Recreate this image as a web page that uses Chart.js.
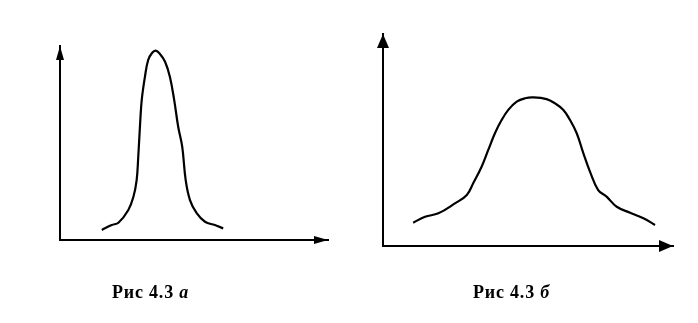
<!DOCTYPE html>
<html>
<head>
<meta charset="utf-8">
<script src="https://cdn.jsdelivr.net/npm/chart.js@4.4.1/dist/chart.umd.min.js"></script>
<style>
  body { margin: 0; background: #fff; }
  #wrap { position: relative; width: 698px; height: 323px; }
  .box { position: absolute; top: 0; width: 349px; height: 323px; }
  .cap { position: absolute; top: 282px; font: bold 18px/20px "Liberation Serif", "Times New Roman", serif; letter-spacing: 0.8px; color: #000; white-space: nowrap; }
  .cap i { font-style: italic; }
</style>
</head>
<body>
<div id="wrap">
  <div class="box" style="left:0"><canvas id="chartA"></canvas></div>
  <div class="box" style="left:349px"><canvas id="chartB"></canvas></div>
  <div class="cap" style="left:112px">Рис 4.3 <i>а</i></div>
  <div class="cap" style="left:473px">Рис 4.3 <i>б</i></div>
</div>
<script>
// narrow curve (4.3 а)
var xA = [15.6, 19.3, 21.8, 25.5, 27.4, 28.6, 29.2, 29.9, 30.5, 31.7, 32.9, 34.4, 35.7, 37.3, 39.2, 41.0, 42.6, 44.1, 45.6, 46.9, 48.5, 51.0, 54.1, 57.8, 60.9];
var yA = [5.2, 7.7, 8.9, 15.5, 22.3, 30.9, 42.9, 60.2, 72.2, 84.2, 92.8, 96.5, 97.6, 95.9, 91.9, 84.2, 72.2, 58.4, 48.1, 30.9, 20.6, 13.8, 9.4, 7.7, 6.0];

// wide curve (4.3 б)
var xB = [10.4, 14.5, 19.1, 24.8, 28.9, 31.1, 34.0, 36.3, 38.6, 40.9, 43.2, 46.1, 49.0, 51.8, 56.4, 59.3, 62.2, 64.5, 66.8, 69.1, 71.4, 74.2, 77.1, 80.6, 85.2, 89.8, 93.8];
var yB = [11.0, 13.8, 15.4, 20.1, 24.1, 29.6, 37.4, 45.3, 53.2, 59.4, 64.2, 68.1, 69.7, 70.1, 69.3, 67.3, 64.2, 59.4, 53.2, 43.7, 35.0, 26.4, 23.3, 18.5, 15.7, 13.1, 9.9];

function pts(xs, ys) {
  return xs.map(function (x, i) { return { x: x, y: ys[i] }; });
}

// arrowheads at the ends of both axes
var arrows = {
  id: 'arrows',
  afterDraw: function (chart, args, opts) {
    var a = chart.chartArea, ctx = chart.ctx;
    var L = opts.len, W = opts.half;
    ctx.save();
    ctx.fillStyle = '#000';
    ctx.beginPath();
    ctx.moveTo(a.right, a.bottom);
    ctx.lineTo(a.right - L, a.bottom - W);
    ctx.lineTo(a.right - L, a.bottom + W);
    ctx.closePath();
    ctx.fill();
    ctx.beginPath();
    ctx.moveTo(a.left, a.top);
    ctx.lineTo(a.left - W, a.top + L);
    ctx.lineTo(a.left + W, a.top + L);
    ctx.closePath();
    ctx.fill();
    ctx.restore();
  }
};

function axis(min, max) {
  return {
    type: 'linear',
    min: min,
    max: max,
    grid: { display: false, drawTicks: false },
    ticks: { display: false },
    border: { display: true, color: '#000', width: 2 }
  };
}

function makeChart(id, data, pad, head) {
  return new Chart(document.getElementById(id), {
    type: 'line',
    data: {
      datasets: [{
        data: data,
        borderColor: '#000',
        borderWidth: 2.2,
        pointRadius: 0,
        tension: 0.4,
        fill: false
      }]
    },
    options: {
      responsive: true,
      maintainAspectRatio: false,
      animation: false,
      layout: { padding: pad },
      plugins: {
        legend: { display: false },
        tooltip: { enabled: false },
        arrows: head
      },
      scales: { x: axis(0, 100), y: axis(0, 100) }
    },
    plugins: [arrows]
  });
}

makeChart('chartA', pts(xA, yA), { left: 60, top: 46, right: 21, bottom: 83 }, { len: 14, half: 4 });
makeChart('chartB', pts(xB, yB), { left: 34, top: 34, right: 25, bottom: 77 }, { len: 14, half: 6 });
</script>
</body>
</html>
